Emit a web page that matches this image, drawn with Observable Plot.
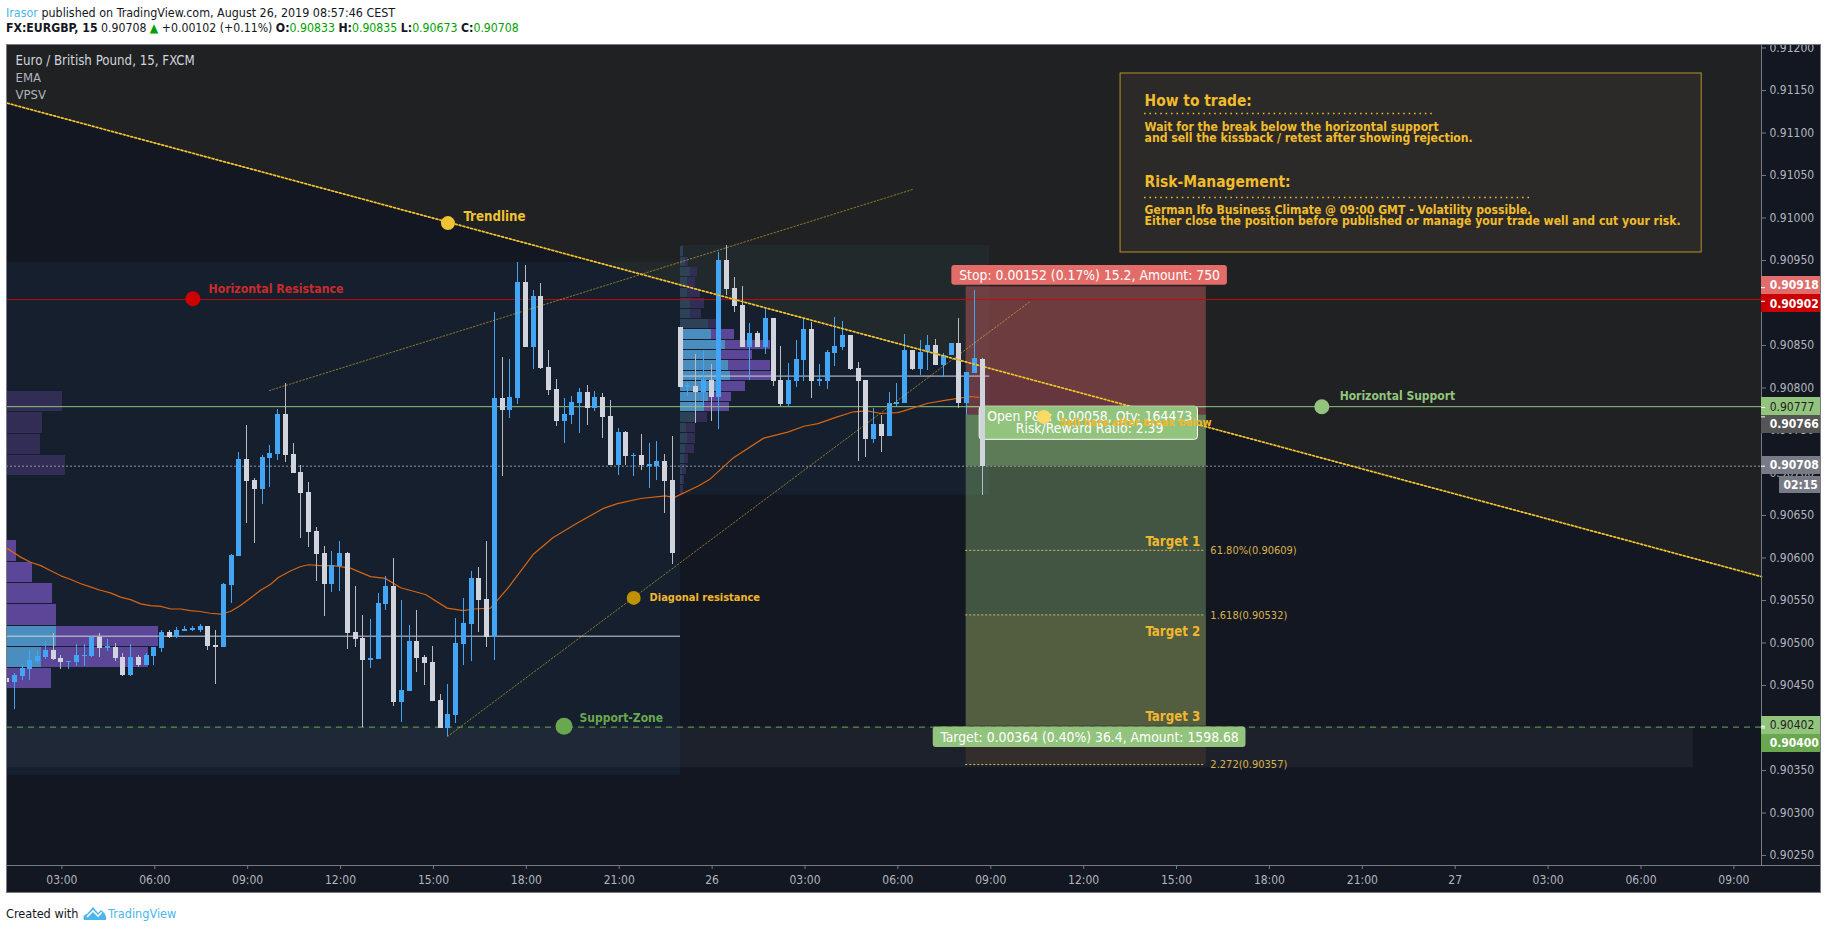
<!DOCTYPE html>
<html>
<head>
<meta charset="utf-8">
<script src="https://cdn.jsdelivr.net/npm/d3@7"></script>
<script src="https://cdn.jsdelivr.net/npm/@observablehq/plot@0.6"></script>
<style>
  html, body { margin: 0; padding: 0; background: #fff; overflow: hidden; }
  body { width: 1828px; height: 930px; position: relative; font-family: "DejaVu Sans Condensed", "Noto Sans", sans-serif; font-size: 13px; color: #131722; }
  .line { position: absolute; left: 6px; white-space: pre; }
  #l1 { top: 5px; font-size: 12.4px; } #l2 { top: 21px; font-size: 12.2px; }
  #chart { position: absolute; left: 6px; top: 44px; }
  #chart svg { display: block; outline: 1px solid #787b86; outline-offset: -1px; }
  #foot { position: absolute; left: 6px; top: 905px; white-space: pre; display: flex; align-items: center; font-size: 12.6px; }
  .b { font-weight: bold; } .g { color: #00a000; } .u { color: #4ab6ea; }
</style>
</head>
<body>
<div class="line" id="l1"><span class="u">Irasor</span> published on TradingView.com, August 26, 2019 08:57:46 CEST</div>
<div class="line" id="l2"><span class="b">FX:EURGBP, 15</span> 0.90708 <span style="color:#00a000">▲</span> +0.00102 (+0.11%) <span class="b">O:</span><span class="g">0.90833</span> <span class="b">H:</span><span class="g">0.90835</span> <span class="b">L:</span><span class="g">0.90673</span> <span class="b">C:</span><span class="g">0.90708</span></div>
<div id="chart"></div>
<div id="foot">Created with <svg width="24" height="16" viewBox="0 0 24 16" style="margin:0 1px 0 1px"><path d="M1 15 Q-1 10 4 9 L10 2 L15 8 L18 5 Q24 9 23 15 Z" fill="#4ab6ea"/><path d="M4 12 L10 6 L15 11 L19 7" fill="none" stroke="#fff" stroke-width="1.6"/></svg><span class="u">TradingView</span></div>
<script>
// All prices are in points of 0.00001 (90708 = 0.90708). x is the 15-minute bar number, bar 0 = 00:00 on the 25th.
const firstBar = 5;
const direction = "dbbbbbddbb" + "bbdbddbdbb" + "bdbbbbddbb" + "bddbbbdddd" + "ddbbdddbbb" + "dbbddddbbb" + "bddbdbbdbd" + "ddbbbdbddb" + "dbdbbdddbd" + "bdbdddbdbd" + "dbbbdbbbbd" + "ddbdbbbdbb" + "dbbdbbd";
const high = [
  90458,90464,90475,90491,90490,90502,90511,90485,90478,90498,
  90498,90508,90511,90504,90499,90488,90498,90485,90488,90495,
  90515,90515,90518,90519,90519,90522,90519,90515,90570,90604,
  90724,90756,90693,90721,90732,90775,90805,90735,90709,90689,
  90636,90614,90608,90619,90606,90566,90532,90528,90558,90578,
  90599,90550,90521,90538,90485,90496,90439,90451,90529,90552,
  90584,90589,90619,90889,90836,90834,90948,90944,90915,90923,
  90844,90810,90788,90790,90799,90803,90796,90793,90785,90752,
  90749,90723,90745,90735,90737,90722,90743,90871,90806,90839,
  90844,90828,90959,90968,90930,90919,90876,90866,90894,90882,
  90849,90829,90856,90881,90877,90828,90844,90883,90878,90862,
  90830,90809,90776,90768,90795,90805,90863,90844,90856,90862,
  90857,90841,90852,90882,90818,90915,90835];
const bodyTop = [
  90458,90462,90470,90479,90484,90491,90491,90482,90478,90485,
  90485,90506,90506,90495,90495,90483,90483,90483,90485,90495,
  90512,90512,90515,90516,90516,90519,90519,90497,90569,90603,
  90716,90716,90691,90718,90723,90769,90769,90722,90701,90677,
  90631,90605,90591,90605,90605,90512,90505,90482,90546,90566,
  90566,90444,90502,90502,90483,90477,90432,90416,90499,90523,
  90576,90576,90551,90788,90788,90789,90924,90924,90908,90908,
  90824,90798,90769,90783,90795,90795,90789,90789,90766,90748,
  90748,90721,90721,90709,90714,90714,90691,90871,90802,90802,
  90809,90809,90950,90950,90917,90897,90864,90864,90882,90882,
  90809,90809,90834,90869,90869,90809,90842,90849,90862,90862,
  90823,90809,90757,90757,90782,90783,90844,90844,90842,90850,
  90850,90838,90852,90852,90818,90835,90833];
const bodyBottom = [
  90454,90454,90461,90469,90478,90483,90481,90477,90477,90477,
  90484,90484,90494,90494,90482,90462,90462,90474,90474,90484,
  90494,90506,90506,90514,90515,90515,90496,90495,90495,90568,
  90602,90690,90681,90681,90717,90722,90721,90699,90676,90630,
  90604,90569,90569,90590,90511,90504,90479,90479,90481,90545,
  90430,90430,90443,90482,90476,90431,90399,90399,90415,90498,
  90522,90550,90506,90506,90774,90774,90788,90848,90848,90823,
  90797,90761,90761,90768,90782,90776,90776,90765,90709,90709,
  90719,90719,90709,90708,90708,90690,90605,90801,90801,90795,
  90795,90789,90789,90916,90896,90848,90848,90848,90848,90808,
  90781,90781,90808,90832,90808,90808,90808,90841,90848,90822,
  90808,90739,90739,90743,90743,90781,90782,90822,90822,90842,
  90826,90826,90838,90782,90782,90817,90708];
const low = [
  90454,90422,90456,90456,90476,90481,90479,90469,90469,90472,
  90472,90483,90483,90490,90478,90461,90461,90471,90474,90474,
  90489,90505,90505,90514,90514,90512,90491,90451,90495,90546,
  90602,90641,90617,90663,90683,90715,90712,90699,90623,90612,
  90572,90531,90559,90561,90492,90495,90401,90470,90481,90538,
  90425,90406,90443,90465,90450,90431,90399,90390,90405,90474,
  90478,90512,90495,90479,90696,90764,90781,90848,90822,90822,
  90791,90755,90735,90757,90746,90756,90772,90741,90709,90697,
  90709,90696,90703,90682,90691,90652,90592,90801,90790,90758,
  90778,90761,90751,90909,90889,90848,90809,90848,90839,90802,
  90778,90778,90801,90808,90788,90802,90798,90825,90844,90821,
  90714,90718,90735,90724,90743,90778,90782,90821,90815,90821,
  90826,90812,90838,90776,90768,90817,90673];

const emaBar = [5.1,6.8,8.1,9.4,10.7,12,13.2,14.5,15.8,17.1,18.4,19.7,21,22.3,23.6,24.9,26.2,27.5,28.7,30,31.3,32.6,33.9,35.2,36.5,37.8,39.1,40.1,41.7,43,44,45.5,47.2,49.4,52,53.9,55.9,59.1,61.9,64,65.3,67.5,69.8,73,75.6,78.9,82,83.9,86.9,90.1,91.2,94.4,95.9,98.9,102.8,105.9,108,109.8,112.3,114.4,116.2,117.9,120.1,120.9,124,126.6,129.5,130.6];
const emaPrice = [90611,90601,90595,90591,90585,90579,90575,90570,90566,90562,90559,90554,90551,90546,90544,90543,90540,90540,90538,90537,90535,90534,90537,90544,90553,90562,90569,90577,90585,90590,90592,90591,90591,90588,90578,90576,90565,90557,90541,90538,90540,90541,90565,90604,90624,90642,90658,90664,90670,90673,90671,90685,90693,90718,90741,90748,90755,90758,90766,90772,90773,90770,90771,90773,90782,90786,90790,90789];

// Visible range
const xDomain = [4.974, 231.7];
const yDomain = [90238.2, 91204.1];
const axisEnd = 239.5;

// Volume profile rows: start bar, top, bottom, end of up volume, end of total volume, bright or dim
const profileStart  = [4.97,4.97,4.97,4.97, 4.97,4.97,4.97,4.97,4.97,4.97,4.97];
const profileTop    = [90796,90771,90745,90721, 90621,90595,90570,90545,90519,90495,90470];
const profileBottom = [90772,90746,90722,90697, 90596,90571,90546,90521,90496,90471,90447];
const profileUpEnd  = [4.97,4.97,4.97,4.97, 4.97,4.97,4.97,4.97,11.4,9.5,4.97];
const profileEnd    = [12.2,9.6,9.4,12.6, 6.3,8.3,10.9,11.4,24.6,23.3,10.8];
const profileBright = [0,0,0,0, 1,1,1,1,1,1,1];
const profile2Top    = [90966.5,90953.5,90941.8,90930,90917,90905.3,90892.4,90880.6,90868.8,90855.9,90844.1,90832.4,90819.4,90807.6,90794.7,90783,90771.2,90758.2,90746.5,90733.5,90721.8,90710,90697,90685.3];
const profile2Bottom = [90954.7,90942.9,90931.2,90918.2,90906.5,90893.5,90881.8,90870,90857,90845.3,90833.5,90820.6,90808.8,90795.9,90784.1,90772.4,90759.4,90747.7,90734.7,90723,90711.2,90698.2,90686.5,90674.7];
const profile2UpEnd  = [92.4,92.7,93.3,93,93,93.4,93.4,95.7,96,97.9,97.4,98.3,98.5,97.2,95.7,95.2,94.1,92.8,93,92.7,92.6,92.3,92.3,92.05];
const profile2End    = [92.4,93.1,94.2,94,94.6,95.1,94.7,96.9,99,103.7,101.3,103.7,104,100.4,98.6,98.4,95.5,94,94,93.8,93.1,92.8,92.6,92.4];
const profile2Bright = [0,0,0,0,0,0,0,0,1,1,1,1,1,1,1,1,0,0,0,0,0,0,0,0];

// Shaded boxes: x1, x2, y1, y2, colour, opacity
const zones = [
  [4.974, 92.05, 90948, 90344, "#45add9", 0.06],
  [92.05, 132, 90968, 90674, "#45add9", 0.06],
  [4.974, 222.9, 90401, 90353, "#ffffff", 0.045]
];
const tradeBoxes = [
  [128.95, 159.98, 90919, 90768, "#e06666", 0.40],
  [128.95, 159.98, 90768, 90402, "#93c47d", 0.36],
  [128.95, 159.98, 90768, 90708, "#93c47d", 0.34],
  [128.95, 159.98, 90532, 90357, "#f1a232", 0.10]
];
const levels = [
  [90904, "#c00c0c", "none"],
  [90778, "#93c47d", "none"],
  [90708, "#9598a1", "2 2"],
  [90401, "#6aa84f", "6 5"]
];
const pocLines = [[4.974, 92.05, 90508], [92.05, 132, 90814]];
const fibBars = [128.9, 159.8];
const fibPrices = [90609, 90533, 90357];
const fibLabelPrices = [90609, 90532, 90357];
const fibLabels = ["61.80%(0.90609)", "1.618(0.90532)", "2.272(0.90357)"];
const trendBar = [5.1, 231.7];
const trendPrice = [91135, 90578];
const channelUpperBar = [38.95, 122.2], channelUpperPrice = [90797, 91034];
const channelLowerBar = [61.95, 137.1], channelLowerPrice = [90390, 90901];

const dots = [
  [62, 90994, 7, "#f1c232"],
  [29.05, 90905, 7.5, "#cc0000"],
  [174.9, 90778, 7.5, "#93c47d"],
  [86, 90553, 7, "#bf9000"],
  [77, 90402, 8.5, "#6aa84f"]
];
const gold = "#f1b82d";
const labels = [
  ["Euro / British Pound, 15, FXCM", 6.14, 91185, "#d1d4dc", 13.2, "normal", "start"],
  ["EMA", 6.14, 91165, "#b2b5be", 13, "normal", "start"],
  ["VPSV", 6.14, 91145, "#b2b5be", 13, "normal", "start"],
  ["Trendline", 64, 91002, "#f1c232", 13.2, "bold", "start"],
  ["Horizontal Resistance", 31.07, 90916, "#cc2b2b", 12.2, "bold", "start"],
  ["Horizontal Support", 177.2, 90790, "#93c47d", 12, "bold", "start"],
  ["Diagonal resistance", 88.05, 90553, gold, 11, "bold", "start"],
  ["Support-Zone", 79, 90411, "#6aa84f", 12, "bold", "start"],
  ["Target 1", 159.2, 90619, gold, 13.2, "bold", "end"],
  ["Target 2", 159.2, 90513, gold, 13.2, "bold", "end"],
  ["Target 3", 159.2, 90413, gold, 13.2, "bold", "end"]
];
const noteBox = [148.9, 223.97, 91170, 90959.4];
const noteX = 152;
const notes = [
  ["How to trade:", 91137, 15.4, "bold"],
  ["Wait for the break below the horizontal support", 91106.5, 12.1, "bold"],
  ["and sell the kissback / retest after showing rejection.", 91093.5, 12.1, "bold"],
  ["Risk-Management:", 91042, 15.4, "bold"],
  ["German Ifo Business Climate @ 09:00 GMT - Volatility possible.", 91009, 12.1, "bold"],
  ["Either close the position before published or manage your trade well and cut your risk.", 90996, 12.1, "bold"]
];
const noteDots = [[152, 189.5, 91123], [152, 201.9, 91024]];
const priceTicks = d3.range(90250, 91201, 50);
const priceBadges = [
  ["0.90918", 90921, "#e06c6c", "#ffffff", 90918, "bold"],
  ["0.90902", 90899, "#cc0000", "#ffffff", 90902, "bold"],
  ["0.90777", 90778, "#93c47d", "#1e1e1e", 90777, "normal"],
  ["0.90766", 90757, "#555555", "#ffffff", 90766, "bold"],
  ["0.90708", 90709, "#787b86", "#ffffff", 90708, "bold"],
  ["0.90402", 90403, "#93c47d", "#1e1e1e", 90402, "normal"],
  ["0.90400", 90382, "#6aa84f", "#ffffff", 90400, "bold"]
];
const timeTicks = [12,24,36,48,60,72,84,96,108,120,132,144,156,168,180,192,204,216,228];
const timeLabels = ["03:00","06:00","09:00","12:00","15:00","18:00","21:00","26","03:00","06:00","09:00","12:00","15:00","18:00","21:00","27","03:00","06:00","09:00"];

const candles = high.map((h, k) => ({
  bar: firstBar + k, high: h, top: bodyTop[k], bottom: bodyBottom[k], low: low[k],
  up: direction[k] === "b"
}));
const ema = emaBar.map((b, k) => ({b, p: emaPrice[k]}));
const trend = trendBar.map((b, k) => ({b, p: trendPrice[k]}));
const profileRows = [];
profileTop.forEach((t, k) => profileRows.push({x0: profileStart[k], t, b: profileBottom[k], u: profileUpEnd[k], e: profileEnd[k], bright: profileBright[k]}));
profile2Top.forEach((t, k) => profileRows.push({x0: 92.05, t, b: profile2Bottom[k], u: profile2UpEnd[k], e: profile2End[k], bright: profile2Bright[k]}));

const box = ([x1, x2, y1, y2, fill, op]) => Plot.rect([0], {x1: [x1], x2: [x2], y1: [y1], y2: [y2], fill, fillOpacity: op});
const straight = (xs, ys, o) => Plot.line(xs.map((b, k) => ({b, p: ys[k]})), {x: "b", y: "p", ...o});
const tag = (x1, x2, y1, y2, fill, extra = {}) => Plot.rect([0], {x1: [x1], x2: [x2], y1: [y1], y2: [y2], fill, rx: 3, ...extra});
const whiteText = (text, x, y) => Plot.text([text], {x: [x], y: [y], fill: "#ffffff", fontSize: 13.8});

const chart = Plot.plot({
  width: 1815, height: 849,
  marginLeft: 0, marginRight: 60, marginTop: 0, marginBottom: 28,
  style: {background: "#131722", fontFamily: '"DejaVu Sans Condensed", "Noto Sans", sans-serif', fontSize: "12px", overflow: "hidden"},
  x: {type: "linear", domain: xDomain, axis: null},
  y: {type: "linear", domain: yDomain, axis: null},
  marks: [
    Plot.areaY(trend, {x: "b", y1: "p", y2: () => yDomain[1], fill: "#1f2123"}),
    zones.map(box),
    // volume profiles
    Plot.rect(profileRows, {x1: "x0", x2: "e", y1: "t", y2: "b", fill: d => d.bright ? "#5c4697" : "#322d54", shapeRendering: "crispEdges"}),
    Plot.rect(profileRows.filter(d => d.u > d.x0), {x1: "x0", x2: "u", y1: "t", y2: "b", fill: d => d.bright ? "#4a8ec0" : "#2d4257", shapeRendering: "crispEdges"}),
    tradeBoxes.map(box),
    levels.map(([y, stroke, dash]) => Plot.ruleY([y], {x1: xDomain[0], x2: xDomain[1], stroke, strokeDasharray: dash === "none" ? undefined : dash, strokeWidth: 1})),
    Plot.ruleY(pocLines, {x1: d => d[0], x2: d => d[1], y: d => d[2], stroke: "#d1d4dc", strokeWidth: 1}),
    Plot.ruleY(fibPrices, {x1: fibBars[0], x2: fibBars[1], stroke: "#d8bf6a", strokeWidth: 1, strokeDasharray: "2 2"}),
    Plot.text(fibLabels, {x: 160.5, y: (d, k) => fibLabelPrices[k], fill: "#d9b24a", fontSize: 11, textAnchor: "start"}),
    // EMA
    Plot.line(ema, {x: "b", y: "p", stroke: "#d9640f", strokeWidth: 1.2}),
    // candles
    Plot.ruleX(candles, {x: "bar", y1: "low", y2: "high", stroke: d => d.up ? "#42a5f5" : "#b8bbc3", strokeWidth: 1, shapeRendering: "crispEdges"}),
    Plot.ruleX(candles, {x: "bar", y1: "bottom", y2: d => Math.max(d.top, d.bottom + 1.6), stroke: d => d.up ? "#42a5f5" : "#d1d4dc", strokeWidth: 5, shapeRendering: "crispEdges"}),
    // channel lines
    straight(channelUpperBar, channelUpperPrice, {stroke: "#f1c232", strokeOpacity: 0.55, strokeWidth: 1, strokeDasharray: "1.5 2"}),
    straight(channelLowerBar, channelLowerPrice, {stroke: "#f1c232", strokeOpacity: 0.55, strokeWidth: 1, strokeDasharray: "1.5 2"}),
    // trend line
    Plot.line(trend, {x: "b", y: "p", stroke: "#8a7026", strokeWidth: 1}),
    Plot.line(trend, {x: "b", y: "p", stroke: "#f4c430", strokeWidth: 1.7, strokeDasharray: "1.6 2.4"}),
    // trade labels
    tag(127.1, 162.7, 90944, 90921, "#e46c68"),
    whiteText("Stop: 0.00152 (0.17%) 15.2, Amount: 750", 144.9, 90932),
    tag(130.7, 158.9, 90778, 90739, "#93c47d", {stroke: "#ffffff", strokeWidth: 1}),
    Plot.ruleY([90778], {x1: 129, x2: 160, stroke: "#93c47d", strokeWidth: 1}),
    whiteText("Open P&L: 0.00058, Qty: 164473", 144.9, 90766),
    whiteText("Risk/Reward Ratio: 2.39", 144.9, 90752),
    Plot.ruleX(candles.slice(-1), {x: "bar", y1: "bottom", y2: "top", stroke: "#d1d4dc", strokeWidth: 5, shapeRendering: "crispEdges"}),
    Plot.ruleX(candles.slice(-1), {x: "bar", y1: "bottom", y2: "low", stroke: "#b8bbc3", strokeWidth: 1, shapeRendering: "crispEdges"}),
    Plot.dot([0], {x: [138.98], y: [90766], r: 7, fill: "#ffd966"}),
    Plot.text(["Sell here after break below"], {x: [141], y: [90759], fill: gold, fontSize: 11, fontWeight: "bold", textAnchor: "start"}),
    tag(124.7, 165.1, 90401, 90377, "#93c47d"),
    whiteText("Target: 0.00364 (0.40%) 36.4, Amount: 1598.68", 144.9, 90389),
    // markers and captions
    dots.map(([x, y, r, fill]) => Plot.dot([0], {x: [x], y: [y], r, fill})),
    labels.map(([t, x, y, fill, fontSize, fontWeight, textAnchor]) => Plot.text([t], {x: [x], y: [y], fill, fontSize, fontWeight, textAnchor})),
    // note box
    Plot.rect([0], {x1: [noteBox[0]], x2: [noteBox[1]], y1: [noteBox[2]], y2: [noteBox[3]], fill: "#2b2a28", stroke: "#b8912a", strokeWidth: 1}),
    notes.map(([t, y, fontSize, fontWeight]) => Plot.text([t], {x: [noteX], y: [y], fill: "#f1bc2b", fontSize, fontWeight, textAnchor: "start"})),
    Plot.ruleY(noteDots, {x1: d => d[0], x2: d => d[1], y: d => d[2], stroke: "#f1c232", strokeWidth: 1.5, strokeDasharray: "1.5 3.9"}),
    // axes
    Plot.axisY({anchor: "right", ticks: priceTicks, tickFormat: d => (d / 1e5).toFixed(5), tickSize: 4, tickPadding: 4, stroke: "#787b86", fill: "#b2b5be", fontSize: 12, label: null}),
    Plot.axisX({anchor: "bottom", ticks: timeTicks, tickFormat: d => timeLabels[timeTicks.indexOf(d)], tickSize: 4, tickPadding: 6, dx: 1, stroke: "#787b86", fill: "#b2b5be", fontSize: 12, label: null}),
    Plot.ruleX([xDomain[1]], {stroke: "#787b86", strokeWidth: 1}),
    Plot.ruleY([yDomain[0]], {x1: xDomain[0], x2: axisEnd, stroke: "#787b86", strokeWidth: 1}),
    // price badges
    Plot.rect(priceBadges, {x1: xDomain[1], x2: axisEnd, y1: d => d[1] - 10.6, y2: d => d[1] + 10.6, fill: d => d[2], shapeRendering: "crispEdges"}),
    Plot.ruleY(priceBadges, {x1: xDomain[1], x2: 232.22, y: d => d[4], stroke: "#ffffff", strokeWidth: 1}),
    priceBadges.map(([t, y, , fill, , fontWeight]) => Plot.text([t], {x: [232.75], y: [y], fill, fontSize: 12, textAnchor: "start", fontWeight})),
    Plot.rect([0], {x1: [234], x2: [axisEnd], y1: [90676], y2: [90696], fill: "#787b86", shapeRendering: "crispEdges"}),
    Plot.text(["02:15"], {x: [236.75], y: [90686], fill: "#ffffff", fontSize: 12, fontWeight: "bold"})
  ],
  color: {type: "identity"}
});
document.getElementById("chart").appendChild(chart);
</script>
</body>
</html>
